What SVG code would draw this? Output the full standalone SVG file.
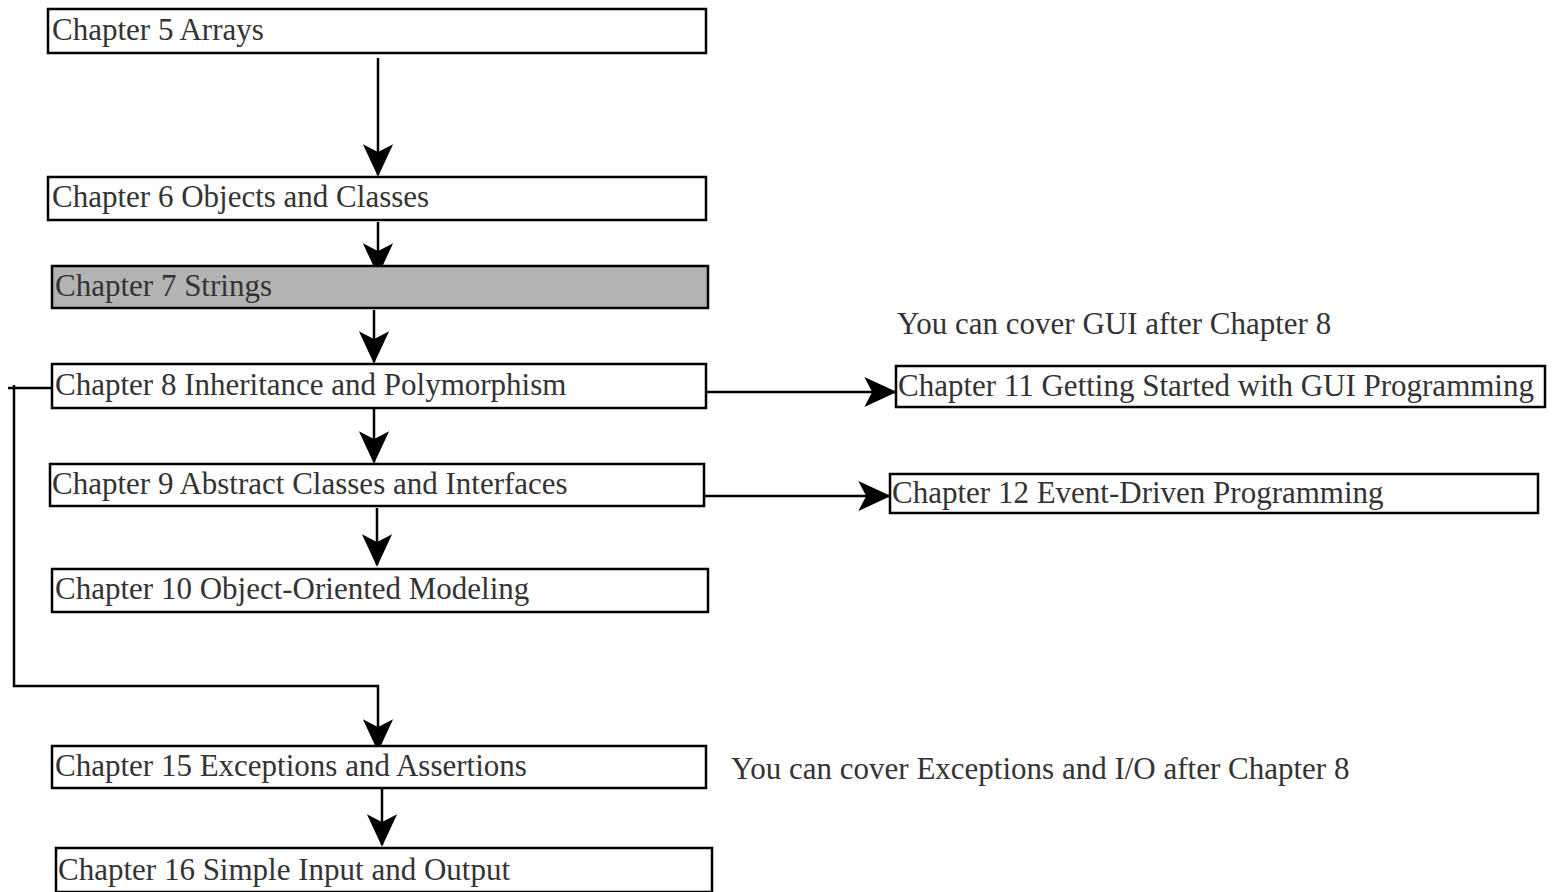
<svg xmlns="http://www.w3.org/2000/svg" width="1553" height="892" viewBox="0 0 1553 892">
<style>
.box{fill:#fff;stroke:#000;stroke-width:2.5}
.gray{fill:#b3b3b3}
.t{font-family:"Liberation Serif","Times New Roman",serif;font-size:31px;fill:#333}
.ln{fill:none;stroke:#000;stroke-width:2.5}
</style>
<defs>
<marker id="ah" markerUnits="userSpaceOnUse" markerWidth="34" markerHeight="32" viewBox="-32 -16 34 32" refX="0" refY="0" orient="auto">
<path d="M0,0 L-29,-13.5 L-22,0 L-29,13.5 Z" fill="#000" stroke="#000" stroke-width="1.5" stroke-linejoin="miter"/>
</marker>
</defs>
<rect width="1553" height="892" fill="#fff"/>
<g id="connectors">
<line class="ln" x1="378" y1="58" x2="378" y2="175" marker-end="url(#ah)"/>
<line class="ln" x1="378" y1="222" x2="378" y2="274" marker-end="url(#ah)"/>
<line class="ln" x1="374" y1="310" x2="374" y2="362" marker-end="url(#ah)"/>
<line class="ln" x1="374" y1="409" x2="374" y2="462" marker-end="url(#ah)"/>
<line class="ln" x1="377" y1="508" x2="377" y2="565" marker-end="url(#ah)"/>
<line class="ln" x1="382" y1="788" x2="382" y2="845" marker-end="url(#ah)"/>
<line class="ln" x1="706" y1="392" x2="895" y2="392" marker-end="url(#ah)"/>
<line class="ln" x1="704" y1="496" x2="889" y2="496" marker-end="url(#ah)"/>
<polyline class="ln" points="52,388 8,388"/>
<polyline class="ln" points="14,385 14,686 378,686 378,750" marker-end="url(#ah)"/>
</g>
<g id="ch5"><rect class="box" x="48" y="9" width="658" height="44"/><text class="t" x="52" y="40">Chapter 5 Arrays</text></g>
<g id="ch6"><rect class="box" x="48" y="177" width="658" height="43"/><text class="t" x="52" y="207">Chapter 6 Objects and Classes</text></g>
<g id="ch7"><rect class="box gray" x="52" y="266" width="656" height="42"/><text class="t" x="55" y="296">Chapter 7 Strings</text></g>
<g id="ch8"><rect class="box" x="52" y="364" width="654" height="44"/><text class="t" x="55" y="395">Chapter 8 Inheritance and Polymorphism</text></g>
<g id="ch9"><rect class="box" x="50" y="464" width="654" height="42"/><text class="t" x="52" y="494">Chapter 9 Abstract Classes and Interfaces</text></g>
<g id="ch10"><rect class="box" x="52" y="569" width="656" height="43"/><text class="t" x="55" y="599">Chapter 10 Object-Oriented Modeling</text></g>
<g id="ch11"><rect class="box" x="896" y="366" width="649" height="41"/><text class="t" x="898" y="396">Chapter 11 Getting Started with GUI Programming</text></g>
<g id="ch12"><rect class="box" x="890" y="474" width="648" height="39"/><text class="t" x="892" y="503">Chapter 12 Event-Driven Programming</text></g>
<g id="ch15"><rect class="box" x="52" y="746" width="654" height="42"/><text class="t" x="55" y="776">Chapter 15 Exceptions and Assertions</text></g>
<g id="ch16"><rect class="box" x="56" y="848" width="656" height="44"/><text class="t" x="58" y="880">Chapter 16 Simple Input and Output</text></g>
<g id="notes">
<text class="t" x="897" y="334">You can cover GUI after Chapter 8</text>
<text class="t" x="731" y="779">You can cover Exceptions and I/O after Chapter 8</text>
</g>
</svg>
